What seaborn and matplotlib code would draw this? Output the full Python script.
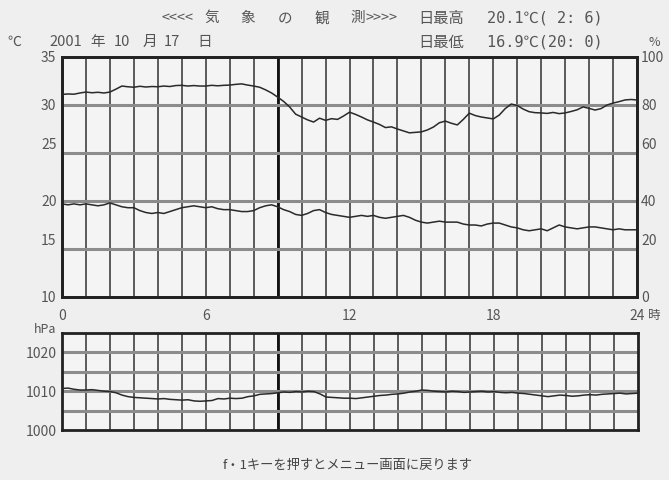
import numpy as np
import pandas as pd
import matplotlib
matplotlib.use("Agg")
import matplotlib.pyplot as plt
import matplotlib.transforms as mtransforms
import seaborn as sns

# 15-minute readings over one day
hours = np.arange(0, 24.01, 0.25)

humidity = [
    84.4, 84.6, 84.5, 85.0, 85.4, 85.1, 85.3, 85.0, 85.4, 86.6, 87.9, 87.6,
    87.4, 87.8, 87.5, 87.7, 87.6, 87.9, 87.7, 88.1, 88.2, 87.9, 88.1, 87.9,
    87.9, 88.2, 88.0, 88.2, 88.3, 88.6, 88.8, 88.3, 87.9, 87.4, 86.3, 85.0,
    83.3, 81.5, 79.2, 76.2, 75.0, 73.8, 72.9, 74.5, 73.6, 74.3, 74.0, 75.4,
    77.0, 76.1, 75.0, 73.8, 72.9, 71.9, 70.6, 70.9, 70.0, 69.2, 68.4, 68.6,
    68.8, 69.6, 70.8, 72.6, 73.3, 72.4, 71.7, 74.0, 76.6, 75.6, 75.0, 74.6,
    74.2, 75.8, 78.5, 80.4, 79.8, 78.3, 77.2, 76.8, 76.7, 76.5, 76.9, 76.4,
    76.7, 77.3, 78.0, 79.2, 78.6, 77.9, 78.5, 80.0, 80.8, 81.4, 82.1, 82.3,
    82.1,
]

temperature = [
    19.7, 19.6, 19.7, 19.6, 19.7, 19.6, 19.5, 19.6, 19.8, 19.6, 19.4, 19.3,
    19.3, 19.0, 18.8, 18.7, 18.8, 18.7, 18.9, 19.1, 19.3, 19.4, 19.5, 19.4,
    19.3, 19.4, 19.2, 19.1, 19.1, 19.0, 18.9, 18.9, 19.0, 19.3, 19.5, 19.6,
    19.4, 19.1, 18.9, 18.6, 18.5, 18.7, 19.0, 19.1, 18.8, 18.6, 18.5, 18.4,
    18.3, 18.4, 18.5, 18.4, 18.5, 18.3, 18.2, 18.3, 18.4, 18.5, 18.3, 18.0,
    17.8, 17.7, 17.8, 17.9, 17.8, 17.8, 17.8, 17.6, 17.5, 17.5, 17.4, 17.6,
    17.7, 17.7, 17.5, 17.3, 17.2, 17.0, 16.9, 17.0, 17.1, 16.9, 17.2, 17.5,
    17.3, 17.2, 17.1, 17.2, 17.3, 17.3, 17.2, 17.1, 17.0, 17.1, 17.0, 17.0,
    17.0,
]

pressure = [
    1010.7, 1010.8, 1010.5, 1010.3, 1010.3, 1010.4, 1010.2, 1010.0, 1009.9,
    1009.6, 1009.0, 1008.6, 1008.4, 1008.3, 1008.2, 1008.1, 1008.0, 1008.1,
    1007.9, 1007.8, 1007.7, 1007.8, 1007.5, 1007.4, 1007.5, 1007.6, 1008.1,
    1008.0, 1008.2, 1008.1, 1008.2, 1008.6, 1008.8, 1009.2, 1009.3, 1009.4,
    1009.6, 1009.8, 1009.7, 1009.9, 1009.8, 1010.0, 1009.9, 1009.3, 1008.5,
    1008.4, 1008.3, 1008.2, 1008.2, 1008.1, 1008.3, 1008.5, 1008.7, 1008.9,
    1009.0, 1009.2, 1009.3, 1009.5, 1009.8, 1010.0, 1010.3, 1010.2, 1010.0,
    1009.9, 1009.8, 1010.0, 1009.9, 1009.7, 1009.8, 1009.9, 1010.0, 1009.8,
    1009.9, 1009.7, 1009.6, 1009.7, 1009.5, 1009.4, 1009.2, 1009.0, 1008.8,
    1008.6, 1008.8, 1009.0, 1008.9, 1008.7, 1008.8, 1009.0, 1009.1, 1009.0,
    1009.2, 1009.3, 1009.4, 1009.5, 1009.3, 1009.4, 1009.5,
]

temp_ticks = [10, 15, 20, 25, 30, 35]
hum_ticks = [0, 20, 40, 60, 80, 100]
pres_ticks = [1000, 1010, 1020]
hour_ticks = [0, 6, 12, 18, 24]

title_parts = ["<<<<", "気", "象", "の", "観", "測", ">>>>"]
date_parts = ["2001", "年", "10", "月", "17", "日"]

df = pd.DataFrame({"hour": hours, "temp": temperature,
                   "hum": humidity, "pres": pressure})

sns.set_theme(style="white")
plt.rcParams["font.family"] = ["Noto Sans CJK JP", "DejaVu Sans"]
MONO = ["DejaVu Sans Mono", "Noto Sans CJK JP"]

BG = "#efefef"
INK = "#2a2a2a"
fig = plt.figure(figsize=(6.69, 4.80), dpi=100, facecolor=BG)

ax = fig.add_axes([62 / 669, 183 / 480, 575 / 669, 240 / 480])
axp = fig.add_axes([62 / 669, 50 / 480, 576 / 669, 97 / 480])


def draw_grid(a, yvals):
    for h in range(1, 24):
        a.axvline(h, color="#5a5a5a", lw=1.4, zorder=1)
    a.axvline(9, color="#111111", lw=2.0, zorder=1)
    for v in yvals:
        a.axhline(v, color="#8c8c8c", lw=2.2, zorder=1)
    a.set_facecolor("#f4f4f4")
    for s in a.spines.values():
        s.set_color("#222222")
        s.set_linewidth(2)
    a.tick_params(length=0, labelsize=10, colors="#555555")


def lift(labels, which, dy):
    # the old screen prints a few scale numbers above their grid line
    shift = mtransforms.ScaledTranslation(0, dy / 72, fig.dpi_scale_trans)
    for lab in labels:
        if lab.get_text() in which:
            lab.set_transform(lab.get_transform() + shift)


# upper panel: temperature (left) and humidity (right)
ax.set_xlim(0, 24)
ax.set_ylim(10, 35)
draw_grid(ax, temp_ticks[1:-1])
sns.lineplot(data=df, x="hour", y="temp", ax=ax, color=INK, lw=1.1, zorder=3)
ax.set_yticks(temp_ticks)
ax.set_yticklabels([str(t) for t in temp_ticks])
ax.set_xticks(hour_ticks)
ax.set_xticklabels([str(h) for h in hour_ticks])
ax.tick_params(axis="x", pad=9)
ax.tick_params(axis="y", pad=4)
ax.set_xlabel("")
ax.set_ylabel("")
lift(ax.get_yticklabels(), ("15", "25"), 7)

ax2 = ax.twinx()
ax2.set_ylim(0, 100)
sns.lineplot(data=df, x="hour", y="hum", ax=ax2, color=INK, lw=1.1, zorder=3)
ax2.set_yticks(hum_ticks)
ax2.set_yticklabels([str(t) for t in hum_ticks])
ax2.tick_params(length=0, labelsize=10, colors="#555555", pad=3)
ax2.set_ylabel("")
for s in ax2.spines.values():
    s.set_color("#222222")
    s.set_linewidth(2)
lift(ax2.get_yticklabels(), ("20", "60"), 7)

# lower panel: pressure
axp.set_xlim(0, 24)
axp.set_ylim(1000, 1025)
draw_grid(axp, [1005, 1010, 1015, 1020])
sns.lineplot(data=df, x="hour", y="pres", ax=axp, color=INK, lw=1.1, zorder=3)
axp.set_yticks(pres_ticks)
axp.set_xticks([])
axp.tick_params(axis="y", pad=4)
axp.set_xlabel("")
axp.set_ylabel("")

# texts around the chart (screen-style wide letter spacing)
gray = "#555555"
for part, xpix in zip(title_parts, [178, 212, 248, 285, 322, 358, 381]):
    fig.text(xpix / 669, 0.962, part, ha="center", va="center",
             fontsize=10.5, color=gray)
for part, xpix in zip(date_parts, [66, 98, 122, 150, 172, 205]):
    fig.text(xpix / 669, 0.912, part, ha="center", va="center",
             fontsize=10.5, color=gray)
fig.text(0.66, 0.962, "日最高", ha="center", va="center", fontsize=11, color=gray)
fig.text(0.66, 0.912, "日最低", ha="center", va="center", fontsize=11, color=gray)
fig.text(0.728, 0.962, "20.1℃( 2: 6)", ha="left", va="center", fontsize=11,
         color=gray, family=MONO)
fig.text(0.728, 0.912, "16.9℃(20: 0)", ha="left", va="center", fontsize=11,
         color=gray, family=MONO)
fig.text(0.022, 0.912, "℃", ha="center", va="center", fontsize=10, color=gray)
fig.text(0.978, 0.912, "%", ha="center", va="center", fontsize=9, color=gray)
fig.text(648 / 669, 0.343, "時", ha="left", va="center", fontsize=9, color=gray)
fig.text(0.068, 0.313, "hPa", ha="center", va="center", fontsize=9, color=gray)
fig.text(0.519, 0.03, "f・1キーを押すとメニュー画面に戻ります", ha="center",
         va="center", fontsize=9.5, color="#444444")

fig.savefig("out.png", dpi=100, facecolor=BG)
